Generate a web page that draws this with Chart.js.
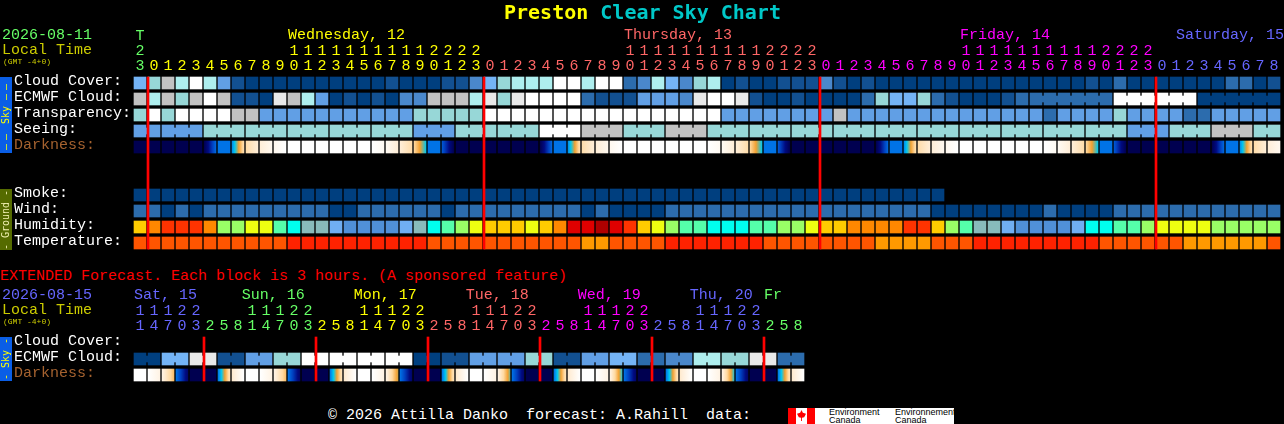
<!DOCTYPE html>
<html>
<head>
<meta charset="utf-8">
<title>Preston Clear Sky Chart</title>
<script src="https://cdn.jsdelivr.net/npm/chart.js@4/dist/chart.umd.min.js"></script>
<style>
  html, body { margin: 0; padding: 0; background: #000; width: 1284px; height: 424px; overflow: hidden; }
  canvas { position: absolute; left: 0; }
  .t { position: absolute; font: 15px/16px "Liberation Mono", monospace; white-space: pre; }
  .tiny { font-size: 8px; line-height: 8px; }
  .strip { position: absolute; left: 0; width: 12px; }
  .strip span { position: absolute; left: 6px; top: 50%; font: 10px/12px "DejaVu Sans Mono", monospace; white-space: pre; transform: translate(-50%, -50%) rotate(-90deg); }
  .strip i { font-style: normal; letter-spacing: 4px; }
  .box { position: absolute; }
  .logo { position: absolute; font: 9px/8px "Liberation Sans", sans-serif; color: #000; white-space: pre; }
</style>
</head>
<body>
<canvas id="topChart" width="1284" height="251" style="top:0"></canvas>
<canvas id="extChart" width="1284" height="98" style="top:285px"></canvas>

<div class="t" style="left:504px;top:0;font:bold 20px/24px 'DejaVu Sans Mono',monospace;color:#ffff00">Preston <span style="color:#00c8c8">Clear Sky Chart</span></div>
<div class="t" style="left:2px;top:28px;color:#66ff66">2026-08-11</div>
<div class="t" style="left:2px;top:43px;color:#cccc00">Local Time</div>
<div class="t tiny" style="left:3px;top:58px;color:#cccc00">(GMT -4+0)</div>
<div class="t" style="left:0;top:269px;color:#ff0000">EXTENDED Forecast. Each block is 3 hours. (A sponsored feature)</div>
<div class="t" style="left:2px;top:288px;color:#6666ff">2026-08-15</div>
<div class="t" style="left:2px;top:303px;color:#cccc00">Local Time</div>
<div class="t tiny" style="left:3px;top:318px;color:#cccc00">(GMT -4+0)</div>

<div class="strip" style="top:77px;height:76px;background:#0a5ee6"><span style="color:#ffff00"><i>——</i> Sky <i>——</i></span></div>
<div class="strip" style="top:189px;height:61px;background:#556b00"><span style="color:#f0f0b0">- Ground -</span></div>
<div class="strip" style="top:337px;height:44px;background:#0a5ee6"><span style="color:#ffff00">- Sky -</span></div>

<div class="t" style="left:328px;top:408px;color:#fff">© 2026 Attilla Danko  forecast: A.Rahill  data:</div>
<div class="box" style="left:788px;top:408px;width:166px;height:16px;background:#fff"></div>
<div class="box" style="left:788px;top:408px;width:8px;height:16px;background:#ff0000"></div>
<div class="box" style="left:807px;top:408px;width:8px;height:16px;background:#ff0000"></div>
<div class="box" style="left:797px;top:410px;width:9px;height:11px;background:#ff0000;clip-path:polygon(50% 0,65% 25%,100% 35%,80% 65%,55% 70%,55% 100%,45% 100%,45% 70%,20% 65%,0 35%,35% 25%)"></div>
<div class="logo" style="left:829px;top:408px">Environment
Canada</div>
<div class="logo" style="left:895px;top:408px">Environnement
Canada</div>

<script>
// colour levels
const skyRamp = ['#003f7f','#125091','#2c6cad','#4a88cc','#619fe5','#74b4f6','#97d7d7','#aeeeee','#c2c2c2','#e9e9e9','#ffffff'];
const humidityRamp = ['#b00000','#e00000','#ff3300','#ff8800','#ffcc00','#eeff11','#99ff66','#55ffaa','#00ffee','#88bbbb','#5090d8','#70aef2'];
const temperatureRamp = ['#ff2200','#ff5500','#ff9900'];
const darkRamp = ['#000050','#000a80','#0040c0','#0073e6','#00c8f0','#f2a030','#ffd9a0','#ffeed8','#ffffff'];

const rowLabels = ['Cloud Cover:','ECMWF Cloud:','Transparency:','Seeing:','Darkness:','','','Smoke:','Wind:','Humidity:','Temperature:'];
const extRowLabels = ['Cloud Cover:','ECMWF Cloud:','Darkness:'];

const topHours = [23,
  0,1,2,3,4,5,6,7,8,9,10,11,12,13,14,15,16,17,18,19,20,21,22,23,
  0,1,2,3,4,5,6,7,8,9,10,11,12,13,14,15,16,17,18,19,20,21,22,23,
  0,1,2,3,4,5,6,7,8,9,10,11,12,13,14,15,16,17,18,19,20,21,22,23,
  0,1,2,3,4,5,6,7,8];
const topDayNames = ['Wednesday, 12','Thursday, 13','Friday, 14','Saturday, 15'];
const topDayStarts = [11,35,59,74.43];
const topDayColors = ['#ffff00','#ff6666','#ff00ff','#6666ff'];
const topColCounts = [1,24,24,24,9];
const topColColors = ['#66ff66','#ffff00','#ff6666','#ff00ff','#6666ff'];
const midnights = [1,25,49,73];

const cloudCover = [5,6,8,7,10,7,4,1,0,0,0,0,0,0,0,0,0,0,1,0,0,0,1,1,3,5,6,7,7,7,10,10,7,10,10,2,3,7,5,3,6,7,0,1,0,0,1,1,1,3,1,0,1,0,0,0,0,0,0,0,0,0,0,0,0,0,0,0,1,0,2,0,0,0,0,0,0,0,2,2,0,1];
const ecmwfCloud = [8,7,8,6,8,10,8,1,1,0,9,8,7,4,0,1,0,1,0,3,3,8,8,8,7,9,6,9,10,10,10,10,2,1,1,1,4,4,4,3,9,10,10,9,1,0,0,1,0,0,0,0,2,6,5,5,6,2,1,0,0,0,1,2,2,2,2,2,2,2,10,10,10,10,10,10,0,0,0,0,0,0];
const ecmwfBlockStarts = [64,70,76];
const transparency = [6,10,6,10,10,10,10,8,8,4,4,4,4,4,4,4,4,4,4,4,6,6,6,6,6,10,10,10,10,10,10,10,10,10,10,10,10,10,10,10,10,10,4,4,4,4,4,4,4,4,8,4,4,4,4,4,4,4,4,4,4,4,4,4,4,2,4,4,4,4,6,4,4,4,4,2,2,4,4,4,4,4];
const seeing = [4,4,4,4,4,6,6,6,6,6,6,6,6,6,6,6,6,6,6,6,4,4,4,6,6,6,6,6,6,10,10,10,8,8,8,6,6,6,8,8,8,6,6,6,6,6,6,6,6,6,6,6,6,6,6,6,6,6,6,6,6,6,6,6,6,6,6,6,6,6,6,4,4,4,6,6,6,8,8,8,6,6];
const seeingBlockStarts = [0,2,5,8,11,14,17,20,23,26,29,32,35,38,41,44,47,50,53,56,59,62,65,68,71,74,77,80];
const smoke = [0,0,0,0,0,0,0,0,0,0,0,0,0,0,0,0,0,0,0,0,0,0,0,0,0,0,0,0,0,0,0,0,0,0,0,0,0,0,0,0,0,0,0,0,0,0,0,0,0,0,0,0,0,0,0,0,0,0];
const wind = [2,2,0,2,0,2,2,2,2,2,2,2,2,2,0,0,2,2,2,2,2,2,0,2,2,2,2,2,2,2,2,2,0,2,0,0,0,0,2,2,2,2,2,2,2,2,2,2,2,2,2,2,2,2,2,2,2,0,0,0,0,0,0,0,0,2,0,0,0,0,2,2,2,2,2,2,2,2,2,2,2,2];
const humidity = [4,3,2,2,2,3,6,6,5,5,7,8,9,9,11,10,10,10,10,11,9,8,7,6,5,4,4,4,5,4,3,1,1,0,1,2,4,5,6,7,7,8,8,8,7,7,6,6,5,4,4,3,3,3,3,2,2,4,6,7,9,9,11,10,10,10,10,11,8,8,7,7,6,5,5,5,5,6,6,6,6,6];
const temperature = [1,1,1,1,1,1,1,1,1,1,1,0,0,0,0,0,0,0,0,0,0,1,1,1,1,1,1,1,1,1,1,1,2,2,1,1,1,1,0,0,0,0,0,0,0,1,1,1,1,1,1,1,1,2,2,2,2,1,1,1,0,0,0,0,0,0,0,0,0,1,1,1,1,1,1,2,2,2,2,2,2,1];
const darkStart = [0,
  0,0,0,0,0,3,3.3,6.2,7,7.6,8,8,8,8,8,8,8,7.7,7,6,3,2.5,0,0,
  0,0,0,0,0,3,3.3,6.2,7,7.6,8,8,8,8,8,8,8,7.7,7,6,3,2.5,0,0,
  0,0,0,0,0,3,3.3,6.2,7,7.6,8,8,8,8,8,8,8,7.7,7,6,3,2.5,0,0,
  0,0,0,0,0,3,3.3,6.2,7];
const darkEnd = [0,
  0,0,0,0,2.8,3,6.3,7,7.6,8,8,8,8,8,8,8,7.7,7,6.2,4,3,0,0,0,
  0,0,0,0,2.8,3,6.3,7,7.6,8,8,8,8,8,8,8,7.7,7,6.2,4,3,0,0,0,
  0,0,0,0,2.8,3,6.3,7,7.6,8,8,8,8,8,8,8,7.7,7,6.2,4,3,0,0,0,
  0,0,0,0,2.8,3,6.3,7,7.6];

const extHours = [11,14,17,20,23,2,5,8,11,14,17,20,23,2,5,8,11,14,17,20,23,2,5,8,11,14,17,20,23,2,5,8,11,14,17,20,23,2,5,8,11,14,17,20,23,2,5,8];
const extDayNames = ['Sat, 15','Sun, 16','Mon, 17','Tue, 18','Wed, 19','Thu, 20','Fr'];
const extDayStarts = [0,7.69,15.69,23.69,31.69,39.69,45];
const extDayColors = ['#6666ff','#66ff66','#ffff00','#ff6666','#ff00ff','#6666ff','#66ff66'];
const extColCounts = [5,8,8,8,8,8,3];
const extMidnights = [5,13,21,29,37,45];
const extEcmwf = [0,0,5,5,9,9,1,1,4,4,6,6,10,10,10,10,10,10,10,10,0,0,1,1,4,4,4,4,6,6,1,1,4,4,5,5,2,2,3,3,7,7,6,6,9,9,2,2];
const extBlockStarts = [0,2,4,6,8,10,12,14,16,18,20,22,24,26,28,30,32,34,36,38,40,42,44,46];
const extDarkStart = [8,8,7.3,3,0,0,3,6.8, 8,8,7.3,3,0,0,3,6.8, 8,8,7.3,3,0,0,3,6.8, 8,8,7.3,3,0,0,3,6.8, 8,8,7.3,3,0,0,3,6.8, 8,8,7.3,3,0,0,3,6.8];
const extDarkEnd = [8,7.3,5.5,0.5,0,0,6.5,8, 8,7.3,5.5,0.5,0,0,6.5,8, 8,7.3,4.8,0.5,0,0,6.5,8, 8,7.3,4.5,0.5,0,0,6.5,8, 8,7.3,4.2,0.5,0,0,6.5,8, 8,7.3,4.2,0.5,0,0,6.5,8];

const MONO = '"Liberation Mono", monospace';
const CELL_PX = 12, NECK_PX = 2, RED_PX = 2;
const CELL_H = 0.375, NECK_H = 0.1875;
const RED_SHIFT = 3 / 7;  // red line sits on the left edge of the cell, not in the middle of the gap

function spreadColors(counts, colors) {
  const out = [];
  counts.forEach((n, i) => { for (let k = 0; k < n; k++) out.push(colors[i]); });
  return out;
}

function rowDataset(values, row, ramp) {
  return {
    data: values.map((v, i) => ({ x: i, y: [row - CELL_H, row + CELL_H] })),
    backgroundColor: values.map(v => ramp[v]),
    barThickness: CELL_PX
  };
}

// little bridges between cells of the same forecast block
function neckDataset(values, starts, row, ramp) {
  const cols = values.map((v, i) => i).filter(i => i < values.length - 1 && i >= starts[0] && !starts.includes(i + 1));
  return {
    data: cols.map(i => ({ x: i + 0.5, y: [row - NECK_H, row + NECK_H] })),
    backgroundColor: cols.map(i => ramp[values[i]]),
    barThickness: NECK_PX
  };
}

function redLines(cols, lastRow) {
  return {
    data: cols.map(c => ({ x: c - RED_SHIFT, y: [-CELL_H, lastRow + CELL_H] })),
    backgroundColor: '#ff0000',
    barThickness: RED_PX
  };
}

function rampColor(level) {
  const lo = Math.floor(level), hi = Math.ceil(level), f = level - lo;
  const a = parseInt(darkRamp[lo].slice(1), 16), b = parseInt(darkRamp[hi].slice(1), 16);
  const mix = s => Math.round(((a >> s) & 255) * (1 - f) + ((b >> s) & 255) * f);
  return `rgb(${mix(16)},${mix(8)},${mix(0)})`;
}

function darknessDataset(starts, ends, row) {
  return {
    data: starts.map((v, i) => ({ x: i, y: [row - CELL_H, row + CELL_H] })),
    barThickness: CELL_PX,
    backgroundColor: ctx => {
      const a = starts[ctx.dataIndex], b = ends[ctx.dataIndex];
      if (a === b) return rampColor(a);
      const mid = ctx.chart.scales.x.getPixelForValue(ctx.dataIndex);
      const g = ctx.chart.ctx.createLinearGradient(mid - CELL_PX / 2, 0, mid + CELL_PX / 2, 0);
      g.addColorStop(0, rampColor(a));
      for (let l = Math.ceil(Math.min(a, b)); l <= Math.max(a, b); l++) g.addColorStop((l - a) / (b - a), rampColor(l));
      g.addColorStop(1, rampColor(b));
      return g;
    }
  };
}

function dayLabels(names, starts, colors, y) {
  return {
    id: 'dayLabels',
    afterDraw(chart) {
      const c = chart.ctx;
      c.save();
      c.font = '15px ' + MONO;
      c.textAlign = 'left';
      c.textBaseline = 'middle';
      names.forEach((n, i) => {
        c.fillStyle = colors[i];
        c.fillText(n, chart.scales.x.getPixelForValue(starts[i]) - CELL_PX / 2, y);
      });
      c.restore();
    }
  };
}

// no room for the layout to add around tick labels: the grid has to sit on exact pixels
function noPadding(s) {
  s.paddingLeft = s.paddingRight = s.paddingTop = s.paddingBottom = 0;
}

function makeChart(id, opt) {
  return new Chart(document.getElementById(id), {
    type: 'bar',
    data: { datasets: opt.datasets },
    plugins: [opt.plugin],
    options: {
      responsive: false,
      animation: false,
      events: [],
      layout: { padding: { left: 14, right: 3, top: 0, bottom: 0 } },
      plugins: { legend: { display: false }, tooltip: { enabled: false }, title: { display: false } },
      scales: {
        x: {
          type: 'linear',
          position: 'top',
          stacked: true,
          offset: false,
          min: -0.5,
          max: 81.5,
          grid: { display: false, drawTicks: false },
          border: { display: false },
          afterFit(s) { s.height = opt.axisHeight; noPadding(s); },
          afterBuildTicks(s) { s.ticks = opt.hours.map((h, i) => ({ value: i })); },
          ticks: {
            autoSkip: false,
            maxRotation: 0,
            padding: 1,
            font: { family: MONO, size: 15, lineHeight: 1 },
            color: ctx => opt.hourColors[ctx.index],
            callback: (v, i) => opt.hourLabel(i)
          }
        },
        y: {
          type: 'linear',
          reverse: true,
          min: -0.5,
          max: opt.rows.length - 0.5,
          grid: { display: false, drawTicks: false },
          border: { display: false },
          afterFit(s) { s.width = 119; noPadding(s); },
          afterBuildTicks(s) { s.ticks = opt.rows.map((r, i) => ({ value: i })); },
          ticks: {
            autoSkip: false,
            crossAlign: 'far',
            padding: 0,
            labelOffset: -2,
            font: { family: MONO, size: 15, lineHeight: 1 },
            color: ctx => opt.rows[ctx.index] === 'Darkness:' ? '#a5622f' : '#ffffff',
            callback: (v, i) => opt.rows[i]
          }
        }
      }
    }
  });
}

const topHourColors = spreadColors(topColCounts, topColColors);
const extHourColors = spreadColors(extColCounts, extDayColors);

function tens(h) { return h >= 10 ? String(h)[0] : ''; }
function ones(h) { return String(h % 10); }

makeChart('topChart', {
  hours: topHours,
  hourColors: topHourColors,
  hourLabel: i => [i === 0 ? 'T' : '', tens(topHours[i]), ones(topHours[i])],
  rows: rowLabels,
  axisHeight: 75,
  plugin: dayLabels(topDayNames, topDayStarts, topDayColors, 35),
  datasets: [
    redLines(midnights, 10),
    rowDataset(cloudCover, 0, skyRamp),
    rowDataset(ecmwfCloud, 1, skyRamp),
    neckDataset(ecmwfCloud, ecmwfBlockStarts, 1, skyRamp),
    rowDataset(transparency, 2, skyRamp),
    rowDataset(seeing, 3, skyRamp),
    neckDataset(seeing, seeingBlockStarts, 3, skyRamp),
    darknessDataset(darkStart, darkEnd, 4),
    rowDataset(smoke, 7, skyRamp),
    rowDataset(wind, 8, skyRamp),
    rowDataset(humidity, 9, humidityRamp),
    rowDataset(temperature, 10, temperatureRamp)
  ]
});

makeChart('extChart', {
  hours: extHours,
  hourColors: extHourColors,
  hourLabel: i => [tens(extHours[i]), ones(extHours[i])],
  rows: extRowLabels,
  axisHeight: 50,
  plugin: dayLabels(extDayNames, extDayStarts, extDayColors, 10),
  datasets: [
    redLines(extMidnights, 2),
    rowDataset(extEcmwf, 1, skyRamp),
    neckDataset(extEcmwf, extBlockStarts, 1, skyRamp),
    darknessDataset(extDarkStart, extDarkEnd, 2)
  ]
});
</script>
</body>
</html>
